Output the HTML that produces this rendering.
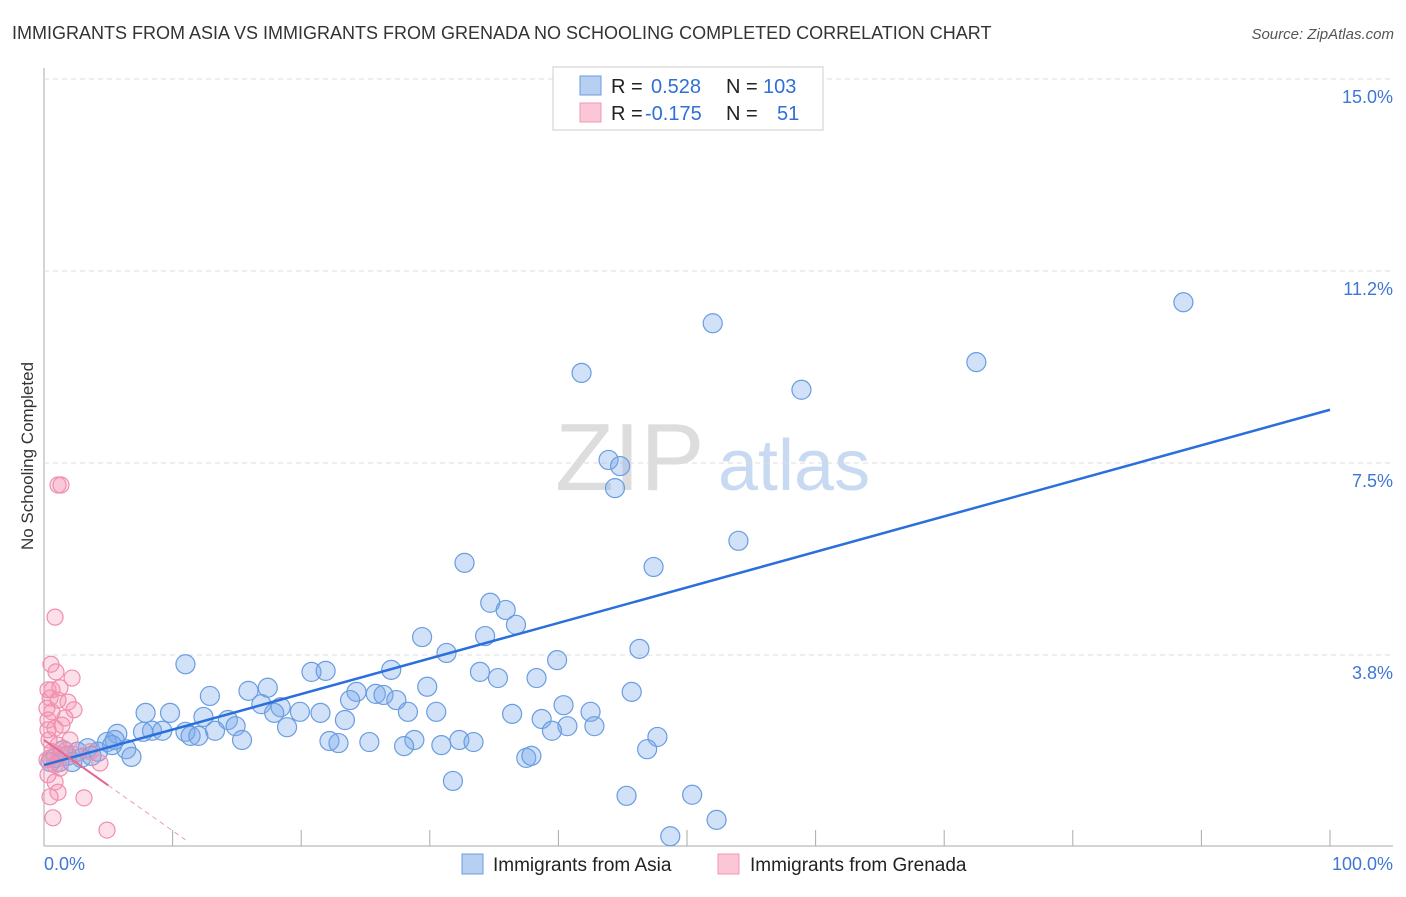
<!DOCTYPE html>
<html><head><meta charset="utf-8"><style>
body{margin:0;background:#fff;font-family:"Liberation Sans",sans-serif}
svg text{font-family:"Liberation Sans",sans-serif}
</style></head><body>
<svg id="chart" width="1406" height="892" xmlns="http://www.w3.org/2000/svg">
<text x="12" y="39" font-size="18" fill="#333">IMMIGRANTS FROM ASIA VS IMMIGRANTS FROM GRENADA NO SCHOOLING COMPLETED CORRELATION CHART</text>
<text x="1394" y="39" font-size="15" fill="#555" text-anchor="end" font-style="italic">Source: ZipAtlas.com</text>
<text transform="translate(33,456) rotate(-90)" font-size="17" fill="#333" text-anchor="middle">No Schooling Completed</text>
<g>
<text x="555" y="490" font-size="96" fill="#ddd" font-family="Liberation Serif,serif">ZIP</text>
<text x="718" y="490" font-size="72" fill="#c8daf2">atlas</text>
</g>
<g id="grid"></g><g id="marks"></g><g id="trend"></g>
<g>
<rect x="553" y="67" width="270" height="63" fill="#fff" stroke="#ccc"/>
<rect x="580" y="76" width="21" height="19" fill="#b7d0f2" stroke="#6a9de0"/>
<rect x="580" y="103" width="21" height="19" fill="#fbc7d6" stroke="#f097b2"/>
<text x="611" y="93" font-size="20" fill="#222">R = </text><text x="651" y="93" font-size="20" fill="#2f6fd6">0.528</text>
<text x="726" y="93" font-size="20" fill="#222">N = </text><text x="763" y="93" font-size="20" fill="#2f6fd6">103</text>
<text x="611" y="120" font-size="20" fill="#222">R = </text><text x="645" y="120" font-size="20" fill="#2f6fd6">-0.175</text>
<text x="726" y="120" font-size="20" fill="#222">N = </text><text x="777" y="120" font-size="20" fill="#2f6fd6">51</text>
</g>
<g>
<rect x="462" y="854" width="21" height="20" fill="#b7d0f2" stroke="#6a9de0"/>
<text x="493" y="871" font-size="19" fill="#222">Immigrants from Asia</text>
<rect x="718" y="854" width="21" height="20" fill="#fbc7d6" stroke="#f097b2"/>
<text x="750" y="871" font-size="19" fill="#222">Immigrants from Grenada</text>
</g>
</svg>
<script>
const yTicks=[3.75,7.5,11.25,15];
const yTickLabels=["3.8%","7.5%","11.2%","15.0%"];
const xTickCount=10;
const asiaX=[88.6,52.0,72.5,58.9,41.8,43.9,44.8,44.4,54.0,47.4,32.7,34.7,35.9,36.7,29.4,34.3,31.3,39.9,46.3,11.0,20.8,21.9,27.0,33.9,35.3,38.3,29.8,17.4,12.9,15.9,45.7,24.3,25.8,26.4,23.8,27.4,16.9,18.4,40.4,7.9,9.8,42.5,19.9,21.5,17.9,28.3,30.5,36.4,12.4,23.4,14.3,38.7,40.7,42.8,18.9,14.9,13.3,8.4,9.2,11.0,11.4,5.7,7.7,12.0,39.5,15.4,22.2,22.9,25.3,28.8,32.3,33.4,47.7,28.0,30.9,4.9,46.9,6.4,3.4,4.2,2.6,1.8,6.8,0.9,1.2,37.5,37.9,31.8,45.3,50.4,52.3,48.7,5.5,0.5,2.2,2.9,1.5,43.5,3.7,5.3];
const asiaY=[10.64,10.23,9.47,8.93,9.26,7.56,7.44,7.01,5.98,5.47,5.55,4.77,4.63,4.34,4.10,4.12,3.79,3.65,3.87,3.57,3.42,3.44,3.46,3.42,3.30,3.30,3.13,3.11,2.95,3.05,3.03,3.03,2.99,2.97,2.87,2.87,2.79,2.73,2.77,2.62,2.62,2.64,2.64,2.62,2.62,2.64,2.64,2.60,2.54,2.48,2.48,2.50,2.36,2.36,2.34,2.36,2.27,2.27,2.27,2.25,2.17,2.21,2.25,2.17,2.27,2.09,2.07,2.03,2.05,2.09,2.09,2.05,2.15,1.97,1.99,2.05,1.91,1.91,1.93,1.86,1.86,1.78,1.76,1.74,1.66,1.74,1.78,1.29,1.00,1.02,0.53,0.21,2.09,1.66,1.66,1.74,1.89,14.9,1.78,1.99];
const grenX=[1.09,1.32,0.86,0.54,0.93,2.18,1.24,0.31,0.47,1.87,2.33,0.62,0.31,0.86,1.40,0.39,1.09,0.62,0.23,0.86,1.24,0.31,0.86,1.09,0.47,3.11,0.70,4.90,1.71,2.41,2.02,3.58,4.35,0.31,0.62,0.23,1.63,1.09,0.47,1.24];
const grenY=[7.07,7.07,4.49,3.57,3.42,3.30,3.11,3.07,2.91,2.83,2.68,2.64,2.48,2.32,2.38,2.09,1.99,1.86,1.70,1.60,1.54,1.41,1.27,1.07,0.98,0.96,0.57,0.33,1.89,1.80,2.09,1.86,1.64,2.29,3.07,2.71,2.52,2.87,1.74,1.80];
const asiaTrend=[1.60,8.54];
const grenTrend=[2.09,0.14];
const grenTrendEnd=11.0;
const NS="http://www.w3.org/2000/svg";
const X0=44,X1=1330,Y0=847,YS=51.2;
function sx(v){return X0+v*(X1-X0)/100;}
function sy(v){return Y0-v*YS;}
function mk(tag,attrs,parent){const e=document.createElementNS(NS,tag);for(const k in attrs)e.setAttribute(k,attrs[k]);parent.appendChild(e);return e;}
const grid=document.getElementById('grid');
let ax=mk('line',{x1:44,y1:68,x2:44,y2:846,stroke:'#aaa','stroke-width':1},grid);


let bx=mk('line',{x1:44,y1:846,x2:1393,y2:846,stroke:'#aaa','stroke-width':1},grid);


yTicks.forEach((t,i)=>{
 let g=mk('line',{x1:44,y1:sy(t),x2:1393,y2:sy(t),stroke:'#ddd','stroke-dasharray':'5,4'},grid);
 
 
 let tx=mk('text',{x:1393,y:sy(t)+24,'font-size':18,fill:'#3f76d6','text-anchor':'end'},grid);
 tx.textContent=yTickLabels[i];
 
 
});
for(let i=1;i<=xTickCount;i++){
 let t=mk('line',{x1:sx(i*10),y1:830,x2:sx(i*10),y2:846,stroke:'#aaa'},grid);
 
 
}
let xl=mk('text',{x:44,y:870,'font-size':18,fill:'#3f76d6'},grid);xl.textContent='0.0%';


let xr=mk('text',{x:1393,y:870,'font-size':18,fill:'#3f76d6','text-anchor':'end'},grid);xr.textContent='100.0%';


const marks=document.getElementById('marks');
asiaX.forEach((v,i)=>{
 let c=mk('circle',{cx:sx(v),cy:sy(asiaY[i]),r:9.5,fill:'rgba(120,170,235,0.35)',stroke:'#6a9de0','stroke-width':1.2},marks);
 
 
});
grenX.forEach((v,i)=>{
 let c=mk('circle',{cx:sx(v),cy:sy(grenY[i]),r:8,fill:'rgba(245,150,180,0.3)',stroke:'#f08fae','stroke-width':1.2},marks);
 
 
});
const tr=document.getElementById('trend');
let bl=mk('line',{x1:sx(0),y1:sy(asiaTrend[0]),x2:sx(100),y2:sy(asiaTrend[1]),stroke:'#2a6fdb','stroke-width':2.5},tr);


const gy=x=>grenTrend[0]+(grenTrend[1]-grenTrend[0])*x/grenTrendEnd;
let pl=mk('line',{x1:sx(0),y1:sy(gy(0)),x2:sx(5),y2:sy(gy(5)),stroke:'#e8678f','stroke-width':2},tr);


let pd=mk('line',{x1:sx(5),y1:sy(gy(5)),x2:sx(grenTrendEnd),y2:sy(gy(grenTrendEnd)),stroke:'#e8a0b6','stroke-width':1,'stroke-dasharray':'5,4'},tr);


</script>
</body></html>
